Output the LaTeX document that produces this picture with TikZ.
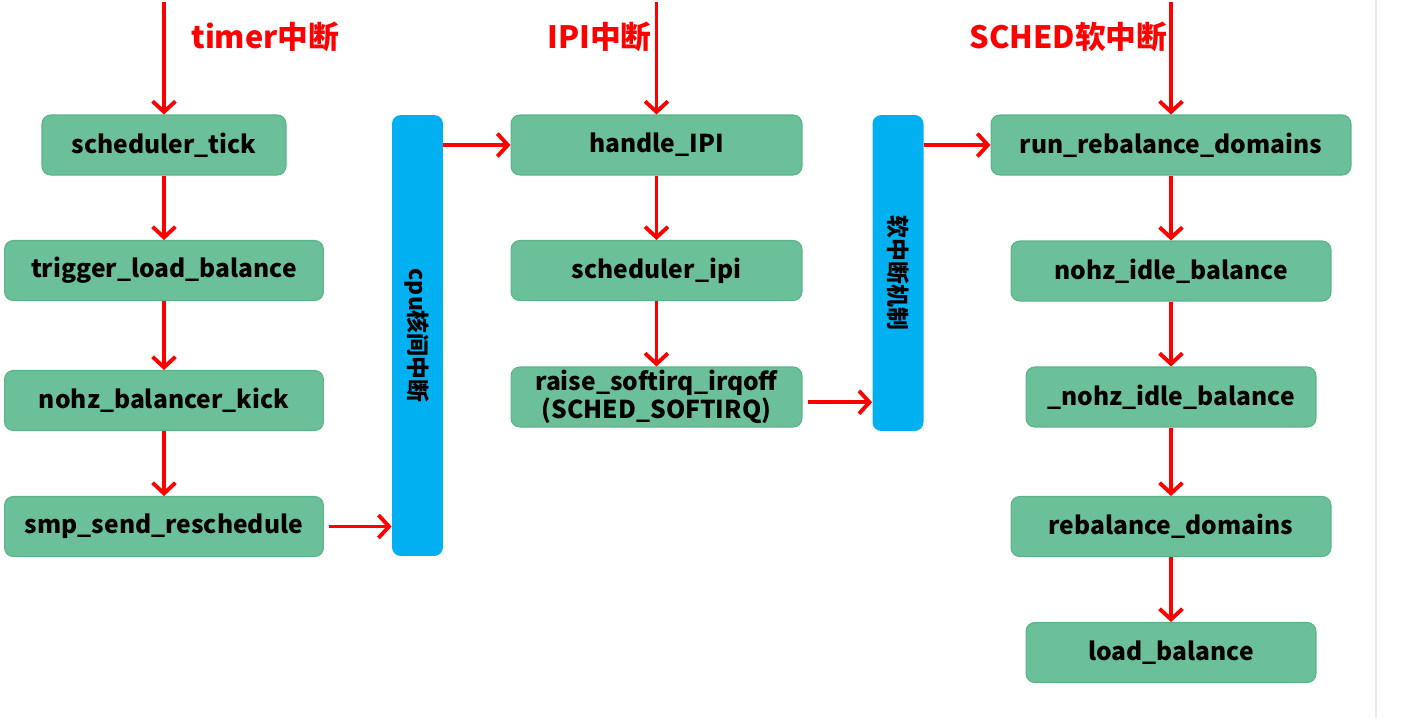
\documentclass[tikz,border=0pt]{standalone}
\usepackage{fontspec}
\setmainfont{Noto Sans CJK SC}
\usetikzlibrary{arrows.meta}
\definecolor{boxgreen}{RGB}{107,191,153}
\definecolor{boxline}{RGB}{90,180,136}
\definecolor{barblue}{RGB}{0,176,240}
\definecolor{flowred}{RGB}{255,0,0}
\begin{document}
\begin{tikzpicture}[x=0.02cm, y=-0.02cm, line join=round, >={Straight Barb[length=6pt,width=13pt]},
	box/.style={draw=boxline, line width=0.6pt, fill=boxgreen, rounded corners=5pt, minimum height=1.2cm, inner sep=0pt, font=\fontsize{14}{16}\selectfont\bfseries, align=center},
	bar/.style={fill=barblue, rounded corners=5pt, minimum width=1.02cm, inner sep=0pt, font=\fontsize{13}{15}\selectfont\bfseries},
	flow/.style={->, flowred, line width=2.2pt},
	title/.style={flowred, anchor=west, inner sep=0pt, font=\fontsize{17.5}{20}\selectfont\bfseries}]
	\useasboundingbox (0,0) rectangle (1404,718);
	\draw[black!8, line width=0.6pt] (1376,0)--(1376,718);
	% timer column
	\node[box, minimum width=4.88cm] (tick) at (164,145) {scheduler\_tick};
	\node[box, minimum width=6.38cm] (trig) at (164,270.5) {trigger\_load\_balance};
	\node[box, minimum width=6.38cm] (kick) at (164,400.5) {nohz\_balancer\_kick};
	\node[box, minimum width=6.38cm] (smp) at (164,526.5) {smp\_send\_reschedule};
	% ipi column
	\node[bar, minimum height=8.82cm] (ipibar) at (417.5,335.5) {\rotatebox{-90}{cpu核间中断}};
	\node[box, minimum width=5.82cm] (ipi) at (656.5,145) {handle\_IPI};
	\node[box, minimum width=5.82cm] (sipi) at (656.5,270.5) {scheduler\_ipi};
	\node[box, minimum width=5.82cm, font=\fontsize{14}{13.5}\selectfont\bfseries] (raise) at (656.5,397) {raise\_softirq\_irqoff\\(SCHED\_SOFTIRQ)};
	% softirq column
	\node[bar, minimum height=6.32cm] (softbar) at (898,273) {\rotatebox{-90}{软中断机制}};
	\node[box, minimum width=7.2cm] (runreb) at (1171,145) {run\_rebalance\_domains};
	\node[box, minimum width=6.4cm] (nidle) at (1171,271) {nohz\_idle\_balance};
	\node[box, minimum width=5.8cm] (_nidle) at (1171,397) {\_nohz\_idle\_balance};
	\node[box, minimum width=6.4cm] (reb) at (1171,526.5) {rebalance\_domains};
	\node[box, minimum width=5.8cm] (lb) at (1171,652.5) {load\_balance};
	% sources
	\node[title] (ttimer) at (191,37) {timer中断};
	\node[title] (tipi) at (547,37) {IPI中断};
	\node[title] (tsched) at (969,37) {SCHED软中断};
	\coordinate (intimer) at (164,2);
	\coordinate (inipi) at (656.5,2);
	\coordinate (insched) at (1171,2);
	% connectors
	\draw[flow] (intimer)--(tick);
	\draw[flow] (inipi)--(ipi);
	\draw[flow] (insched)--(runreb);
	\foreach \a/\b in {tick/trig, trig/kick, kick/smp, ipi/sipi, sipi/raise, runreb/nidle, nidle/_nidle, _nidle/reb, reb/lb}
		\draw[flow] (\a)--(\b);
	\draw[flow] ([xshift=3pt]smp.east)--(smp.east -| ipibar.west);
	\draw[flow] (ipibar.east |- ipi.west)--(ipi.west);
	\draw[flow] ([xshift=3pt,yshift=-3pt]raise.east)--([yshift=-3pt]raise.east -| softbar.west);
	\draw[flow] (softbar.east |- runreb.west)--(runreb.west);
\end{tikzpicture}
\end{document}
